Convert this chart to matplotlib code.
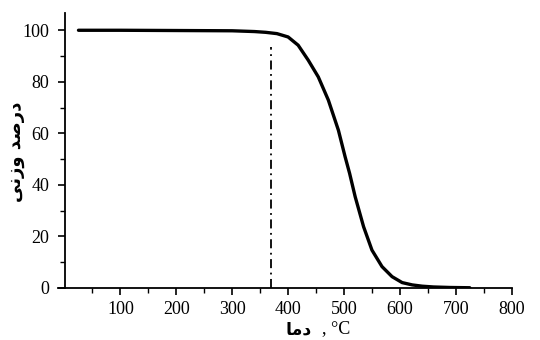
import matplotlib
matplotlib.use("Agg")
import matplotlib.pyplot as plt
from matplotlib.ticker import MultipleLocator

# Data (temperature in °C, weight percent)
temps = [25, 100, 200, 300, 340, 360, 380, 400, 418, 436, 454, 472, 490, 502,
         510, 520, 535, 550, 568, 586, 604, 622, 640, 660, 690, 725]
weights = [100, 100, 99.9, 99.8, 99.5, 99.2, 98.7, 97.4, 94.2, 88.4, 81.9, 72.9,
           61.2, 50.9, 44.5, 35.4, 23.8, 14.7, 8.3, 4.4, 2.1, 1.2, 0.7, 0.4,
           0.2, 0.1]
onset_temp = 370
onset_top = 93.5
x_ticks = [100, 200, 300, 400, 500, 600, 700, 800]
y_ticks = [0, 20, 40, 60, 80, 100]

# Persian labels (pre-shaped presentation forms, visual order)
ylabel_text = "\uFEF0\uFEE7\uFEAF\uFEED \uFEAA\uFEBB\uFEAD\uFEA9"   # درصد وزنی
xlabel_fa = "\uFE8E\uFEE3\uFEA9"                                   # دما
xlabel_unit = ", °C"

fig = plt.figure(figsize=(5.4, 3.4), dpi=100)
ax = fig.add_axes([57.8 / 540, 1 - 288 / 340, (511.7 - 57.8) / 540, (288 - 13) / 340])

ax.plot(temps, weights, color="black", linewidth=2.4, solid_capstyle="round",
        solid_joinstyle="round")
ax.plot([onset_temp, onset_temp], [0, onset_top], color="black",
        linewidth=1.3, linestyle=(0, (5, 2.5, 1, 2.5)))

ax.set_xlim(-12, 800)
ax.set_ylim(0, 106.7)
ax.spines["left"].set_position(("data", 0))
ax.spines["top"].set_visible(False)
ax.spines["right"].set_visible(False)
for s in ("left", "bottom"):
    ax.spines[s].set_linewidth(1.3)

ax.set_xticks(x_ticks)
ax.set_yticks(y_ticks)
ax.yaxis.set_minor_locator(MultipleLocator(10))
ax.set_xticks([50 * i for i in range(1, 16) if (50 * i) % 100 != 0], minor=True)
ax.tick_params(which="major", direction="out", length=5, width=1.2,
               labelsize=13)
ax.tick_params(which="minor", direction="out", length=3.5, width=1.0)
ax.tick_params(axis="x", pad=4)
ax.tick_params(axis="y", pad=6)
for lab in ax.get_xticklabels() + ax.get_yticklabels():
    lab.set_fontfamily("Liberation Serif")

fig.text(16 / 540, 1 - 152 / 340, ylabel_text, rotation=90, ha="center",
         va="center", fontsize=13, fontweight="bold", family="DejaVu Sans")
fig.text(312 / 540, 1 - 329 / 340, xlabel_fa, ha="right", va="center",
         fontsize=12.5, fontweight="bold", family="DejaVu Sans")
fig.text(322 / 540, 1 - 329 / 340, xlabel_unit, ha="left", va="center",
         fontsize=13, family="Liberation Serif")

fig.savefig("out.png", dpi=100)
